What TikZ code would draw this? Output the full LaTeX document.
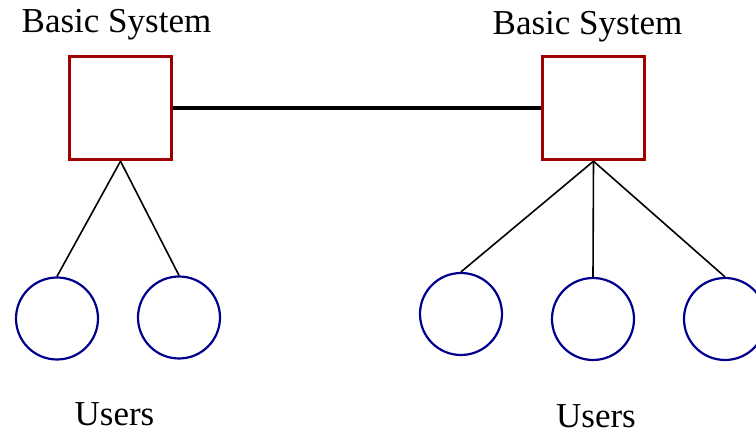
\documentclass[tikz,border=0pt]{standalone}
\usepackage{fontspec}
\setmainfont{Liberation Serif}
\definecolor{sysred}{RGB}{160,0,0}
\definecolor{usrblue}{RGB}{0,0,140}
\begin{document}
\begin{tikzpicture}[x=1pt,y=-1pt,
  sysbox/.style={draw=sysred,line width=3.4pt,rectangle,minimum width=102pt,minimum height=103pt,inner sep=0pt},
  usr/.style={draw=usrblue,line width=2.2pt,circle,minimum size=82pt,inner sep=0pt},
  lbl/.style={anchor=base,inner sep=0pt,font=\fontsize{35}{40}\selectfont},
  link/.style={draw=black,line width=3.4pt},
  branch/.style={draw=black,line width=1.6pt}]
\useasboundingbox (0,0) rectangle (756,435);
% systems
\node[sysbox] (s1) at (120.5,108) {};
\node[sysbox] (s2) at (593.5,108) {};
\node[lbl] (t1) at (116.5,33) {Basic System};
\node[lbl] (t2) at (587.5,35) {Basic System};
% users
\node[usr] (u1) at (57,318.5) {};
\node[usr] (u2) at (179,317.5) {};
\node[usr] (u3) at (461,314) {};
\node[usr] (u4) at (593,319) {};
\node[usr] (u5) at (725,319) {};
\node[lbl] (t3) at (114.5,426) {Users};
\node[lbl] (t4) at (596,428) {Users};
% connectors
\draw[link] (s1.east) -- (s2.west);
\draw[branch] (s1.south) -- (u1.north);
\draw[branch] (s1.south) -- (u2.north);
\draw[branch] (s2.south) -- (u3.north);
\draw[branch] (s2.south) -- (u4.north);
\draw[branch] (s2.south) -- (u5.north);
\end{tikzpicture}
\end{document}
